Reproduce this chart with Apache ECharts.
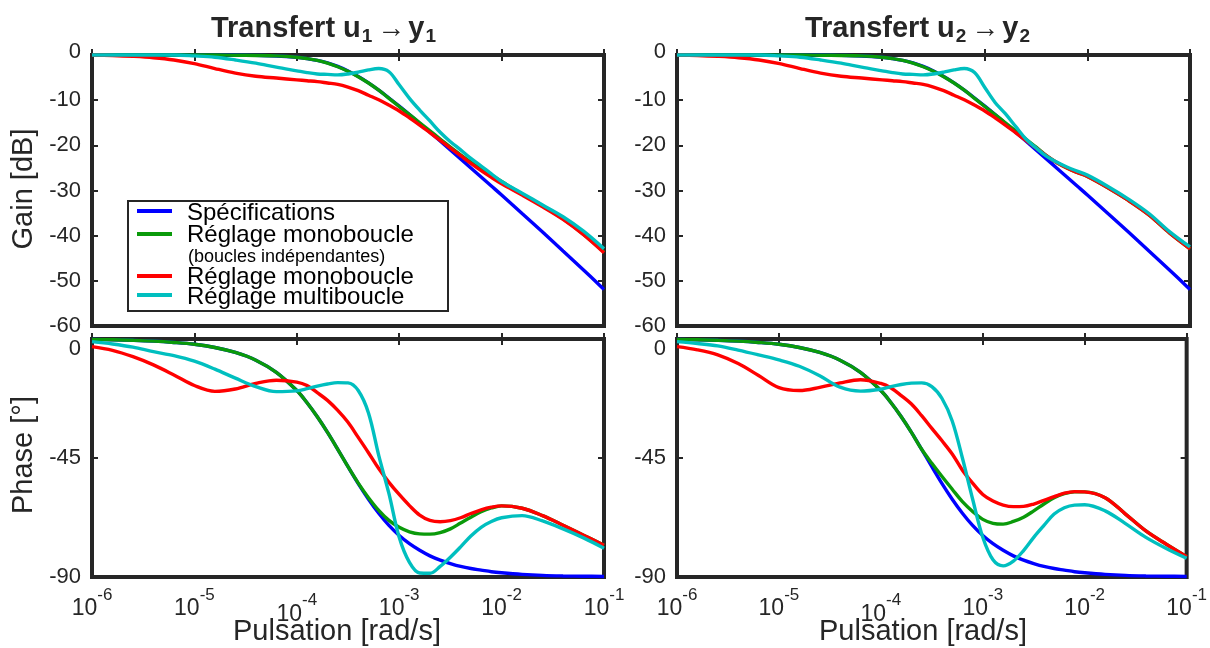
<!DOCTYPE html>
<html>
<head>
<meta charset="utf-8">
<script src="https://cdn.jsdelivr.net/npm/echarts@6/dist/echarts.min.js"></script>
<style>
html, body { margin: 0; padding: 0; background: #ffffff; }
#chart { width: 1210px; height: 648px; }
</style>
</head>
<body>
<div id="chart"></div>
<script>
// ---------------- DATA ----------------
// Pulsation grid (rad/s)
const omega = [1e-6, 1.585e-6, 2.512e-6, 3.981e-6, 6.31e-6, 1e-5, 1.585e-5, 2.512e-5, 3.981e-5, 6.31e-5,
  1e-4, 1.259e-4, 1.585e-4, 1.995e-4, 2.512e-4, 3.162e-4, 3.981e-4, 5.012e-4, 6.31e-4, 7.943e-4,
  1e-3, 1.259e-3, 1.585e-3, 1.995e-3, 2.512e-3, 3.162e-3, 3.981e-3, 5.012e-3, 6.31e-3, 7.943e-3,
  1e-2, 1.585e-2, 2.512e-2, 3.981e-2, 6.31e-2, 1e-1];

const seriesNames = ['Spécifications', 'Réglage monoboucle (boucles indépendantes)', 'Réglage monoboucle', 'Réglage multiboucle'];
const panelTitles = [['1', '1'], ['2', '2']];
const gainTicks = [0, -10, -20, -30, -40, -50, -60];
const phaseTicks = [0, -45, -90];

// Gain [dB], transfert u1 -> y1
const gainSpec = [0, 0, 0, 0, 0, 0, 0, -0.01, -0.09, -0.21, -0.51, -0.79, -1.19, -1.75, -2.53, -3.54, -4.77, -6.19, -7.79, -9.52, -11.33, -13.2, -15.13, -17.08, -19.04, -21.02, -23.0, -25.0, -27.0, -29.0, -31.0, -35.1, -39.2, -43.4, -47.6, -51.9];
const gainMono1 = [0, 0, 0, 0, 0, 0, 0, -0.05, -0.1, -0.2, -0.5, -0.8, -1.2, -1.8, -2.6, -3.6, -4.8, -6.2, -7.8, -9.6, -11.4, -13.2, -15.0, -16.8, -18.6, -20.4, -22.1, -23.7, -25.2, -26.6, -28.0, -30.8, -33.4, -36.3, -39.7, -43.6];
const gainMonoB1 = [0, -0.1, -0.3, -0.6, -1.1, -1.9, -3.0, -4.0, -4.7, -5.1, -5.5, -5.7, -5.9, -6.2, -6.5, -7.1, -7.9, -8.9, -9.9, -11.1, -12.4, -13.9, -15.5, -17.2, -18.9, -20.6, -22.3, -24.0, -25.6, -27.1, -28.5, -31.0, -33.6, -36.4, -39.8, -43.8];
const gainMulti1 = [0, 0, 0, 0, 0, -0.2, -0.5, -1.1, -1.8, -2.7, -3.5, -3.9, -4.2, -4.3, -4.4, -4.2, -3.8, -3.3, -3.0, -3.7, -6.6, -9.6, -12.2, -14.6, -17.1, -19.2, -21.0, -22.9, -24.6, -26.3, -28.0, -30.6, -33.2, -35.8, -39.0, -42.9];

// Gain [dB], transfert u2 -> y2
const gainMono2 = [0, 0, 0, 0, 0, 0, 0, -0.05, -0.1, -0.2, -0.5, -0.8, -1.2, -1.8, -2.6, -3.6, -4.8, -6.2, -7.8, -9.6, -11.4, -13.2, -15.0, -16.8, -18.6, -20.4, -22.3, -23.8, -25.0, -26.0, -26.9, -29.4, -32.2, -35.4, -39.4, -42.9];
const gainMonoB2 = [0, -0.1, -0.3, -0.6, -1.1, -1.9, -3.0, -4.0, -4.7, -5.1, -5.5, -5.7, -5.9, -6.2, -6.5, -7.1, -7.9, -8.9, -9.9, -11.1, -12.4, -13.9, -15.5, -17.2, -18.9, -20.6, -22.3, -23.8, -25.0, -26.0, -26.9, -29.4, -32.2, -35.4, -39.4, -42.9];
const gainMulti2 = [0, 0, 0, 0, 0, -0.2, -0.5, -1.1, -1.8, -2.7, -3.5, -3.9, -4.2, -4.3, -4.4, -4.2, -3.8, -3.3, -3.0, -3.9, -7.2, -10.5, -13.0, -15.8, -18.6, -20.6, -22.4, -23.7, -24.8, -25.7, -26.6, -29.1, -31.9, -35.1, -39.1, -42.5];

// Phase [deg]
const phaseSpec = [-0.2, -0.3, -0.5, -0.8, -1.3, -2.0, -3.2, -5.1, -8.0, -12.6, -19.5, -24.1, -29.4, -35.3, -41.7, -48.3, -54.7, -60.6, -65.9, -70.5, -74.3, -77.4, -79.9, -82.0, -83.6, -84.9, -86.0, -86.8, -87.4, -88.0, -88.4, -89.0, -89.4, -89.6, -89.7, -89.8];
const phaseMono1 = [-0.2, -0.3, -0.5, -0.8, -1.3, -2.0, -3.2, -5.1, -8.0, -12.6, -19.5, -24.1, -29.4, -35.3, -41.7, -48.3, -54.5, -60.0, -64.8, -68.6, -71.2, -72.9, -73.7, -73.8, -73.2, -71.8, -69.6, -67.4, -65.3, -63.9, -63.1, -64.0, -66.8, -70.4, -74.2, -78.0];
const phaseMonoB1 = [-2.9, -4.3, -6.7, -9.8, -13.6, -17.6, -19.8, -18.9, -16.8, -15.6, -16.3, -17.6, -20.3, -23.2, -27.0, -31.5, -37.2, -43.0, -49.0, -54.2, -58.8, -63.0, -66.6, -68.6, -69.1, -68.7, -67.6, -66.0, -64.6, -63.6, -63.1, -64.0, -66.8, -70.4, -74.2, -78.0];
const phaseMulti1 = [-1.0, -1.9, -3.1, -4.8, -6.3, -8.4, -11.4, -14.8, -18.0, -19.9, -19.6, -18.8, -17.8, -17.0, -16.5, -16.6, -19.5, -28.0, -44.0, -58.5, -75.0, -84.5, -88.5, -88.6, -86.0, -82.5, -78.6, -74.5, -71.2, -69.0, -67.6, -66.8, -68.8, -71.8, -75.2, -79.1];
const phaseMono2 = [-0.2, -0.3, -0.5, -0.8, -1.3, -2.0, -3.2, -5.1, -8.0, -12.6, -19.5, -24.1, -29.4, -35.3, -41.7, -47.0, -52.0, -56.8, -61.5, -65.2, -68.2, -69.7, -70.0, -69.0, -67.4, -65.0, -62.4, -60.0, -58.5, -57.8, -57.8, -60.0, -66.2, -72.6, -77.6, -82.3];
const phaseMonoB2 = [-2.9, -4.1, -6.0, -9.3, -13.8, -18.4, -19.5, -18.3, -16.6, -15.4, -16.8, -18.5, -21.4, -24.6, -29.0, -33.8, -38.5, -43.5, -49.6, -54.5, -58.8, -61.3, -62.8, -63.4, -63.3, -62.4, -61.0, -59.6, -58.3, -57.7, -57.8, -60.0, -66.2, -72.6, -77.6, -82.3];
const phaseMulti2 = [-1.0, -1.7, -2.6, -4.2, -6.0, -7.9, -10.3, -13.9, -18.2, -19.7, -19.0, -18.0, -17.2, -16.7, -16.6, -18.0, -22.5, -31.0, -45.0, -60.5, -75.0, -83.5, -85.8, -84.0, -80.0, -75.0, -70.5, -66.2, -63.8, -62.8, -62.7, -65.0, -69.8, -75.0, -79.2, -82.9];

// ---------------- STYLE ----------------
const FONT = "'Liberation Sans', Arial, Helvetica, sans-serif";
const INK = '#262626';
const COLORS = ['#0000ff', '#0a9a0a', '#ff0000', '#00bfbf'];

const panels = [
  { grid: { left: 92, top: 55, width: 512, height: 271 }, kind: 'gain', labels: false,
    data: [gainSpec, gainMono1, gainMonoB1, gainMulti1] },
  { grid: { left: 677, top: 55, width: 513, height: 271 }, kind: 'gain', labels: false,
    data: [gainSpec, gainMono2, gainMonoB2, gainMulti2] },
  { grid: { left: 92, top: 339, width: 512, height: 238 }, kind: 'phase', labels: true,
    data: [phaseSpec, phaseMono1, phaseMonoB1, phaseMulti1] },
  { grid: { left: 677, top: 339, width: 513, height: 238 }, kind: 'phase', labels: true,
    data: [phaseSpec, phaseMono2, phaseMonoB2, phaseMulti2] }
];

const tickStyle = { show: true, inside: true, length: 6, lineStyle: { color: INK, width: 2 } };

const grids = [], xAxes = [], yAxes = [], series = [];
panels.forEach((p, i) => {
  grids.push(Object.assign({ show: true, borderColor: INK, borderWidth: 4, backgroundColor: '#ffffff', containLabel: false }, p.grid));
  const xBase = {
    type: 'log', logBase: 10, gridIndex: i, min: omega[0], max: omega[omega.length - 1], splitNumber: 5,
    axisLine: { show: false }, axisTick: tickStyle, splitLine: { show: false }, minorTick: { show: false }
  };
  xAxes.push(Object.assign({}, xBase, {
    position: 'bottom',
    axisLabel: {
      show: p.labels, margin: 5, showMinLabel: true, showMaxLabel: true, color: INK, fontFamily: FONT,
      formatter: function (v) {
        const e = Math.round(Math.log10(v));
        if (e === -4) return '{b4|10}{e4|' + e + '}';
        return '{b|10}{e|' + e + '}';
      },
      rich: {
        b: { fontSize: 23, color: INK, fontFamily: FONT, padding: [15, 0, 0, 0] },
        e: { fontSize: 17, color: INK, fontFamily: FONT, padding: [0, 0, 12, 0] },
        b4: { fontSize: 23, color: INK, fontFamily: FONT, padding: [21, 0, 0, 0] },
        e4: { fontSize: 17, color: INK, fontFamily: FONT, padding: [4, 0, 12, 0] }
      }
    }
  }));
  xAxes.push(Object.assign({}, xBase, { position: 'top', axisLabel: { show: false } }));

  const isGain = p.kind === 'gain';
  const ticks = isGain ? gainTicks : phaseTicks;
  const yBase = {
    type: 'value', gridIndex: i,
    min: ticks[ticks.length - 1], max: ticks[0], interval: ticks[0] - ticks[1],
    axisLine: { show: false }, axisTick: tickStyle, splitLine: { show: false }
  };
  yAxes.push(Object.assign({}, yBase, {
    position: 'left',
    axisLabel: {
      show: true, margin: 11, color: INK, fontSize: 22, fontFamily: FONT,
      formatter: function (v) {
        if (v === 0) return isGain ? '{z|0}' : '{p|0}';
        return String(v);
      },
      rich: {
        z: { fontSize: 22, color: INK, fontFamily: FONT, padding: [0, 0, 6, 0] },
        p: { fontSize: 22, color: INK, fontFamily: FONT, padding: [20, 0, 0, 0] }
      }
    }
  }));
  yAxes.push(Object.assign({}, yBase, { position: 'right', axisLabel: { show: false } }));

  p.data.forEach((vals, k) => {
    series.push({
      name: seriesNames[k], type: 'line', xAxisIndex: 2 * i, yAxisIndex: 2 * i,
      data: omega.map((w, j) => [w, vals[j]]),
      showSymbol: false, symbol: 'none', smooth: 0.35, clip: false,
      lineStyle: { color: COLORS[k], width: 3.4 }, itemStyle: { color: COLORS[k] },
      z: 3 + k, animation: false
    });
  });
});

// ---------------- TEXT & LEGEND ----------------
function titleText(pair) {
  return '{a|Transfert u}{s|' + pair[0] + '}{r|→}{a|y}{s|' + pair[1] + '}';
}
const titleRich = {
  a: { fontSize: 29, fontWeight: 'bold', fontFamily: FONT, fill: INK },
  s: { fontSize: 19, fontWeight: 'bold', fontFamily: FONT, fill: INK, padding: [15, 3, 0, 1] },
  r: { fontSize: 28, fontWeight: 'normal', fontFamily: FONT, fill: INK, padding: [0, 3, 0, 2] }
};
const bigText = { fontSize: 29, fontFamily: FONT, fill: INK, align: 'center', verticalAlign: 'middle' };
const legText = { fontSize: 24, fontFamily: FONT, fill: '#000000', align: 'left', verticalAlign: 'middle' };

const graphic = [
  { type: 'text', x: 325, y: 29, z: 100, style: { text: titleText(panelTitles[0]), rich: titleRich, align: 'center', verticalAlign: 'middle' } },
  { type: 'text', x: 919, y: 29, z: 100, style: { text: titleText(panelTitles[1]), rich: titleRich, align: 'center', verticalAlign: 'middle' } },
  { type: 'text', x: 24, y: 189, rotation: Math.PI / 2, z: 100, style: Object.assign({ text: 'Gain [dB]' }, bigText) },
  { type: 'text', x: 24, y: 455, rotation: Math.PI / 2, z: 100, style: Object.assign({ text: 'Phase [°]' }, bigText) },
  { type: 'text', x: 337, y: 632, z: 100, style: Object.assign({ text: 'Pulsation [rad/s]' }, bigText) },
  { type: 'text', x: 923, y: 632, z: 100, style: Object.assign({ text: 'Pulsation [rad/s]' }, bigText) },
  // legend box
  { type: 'rect', z: 100, shape: { x: 128, y: 201, width: 320, height: 110 }, style: { fill: '#ffffff', stroke: INK, lineWidth: 2 } },
  { type: 'line', z: 101, shape: { x1: 137, y1: 211, x2: 172, y2: 211 }, style: { stroke: COLORS[0], lineWidth: 4 } },
  { type: 'line', z: 101, shape: { x1: 137, y1: 234, x2: 172, y2: 234 }, style: { stroke: COLORS[1], lineWidth: 4 } },
  { type: 'line', z: 101, shape: { x1: 137, y1: 276, x2: 172, y2: 276 }, style: { stroke: COLORS[2], lineWidth: 4 } },
  { type: 'line', z: 101, shape: { x1: 137, y1: 295, x2: 172, y2: 295 }, style: { stroke: COLORS[3], lineWidth: 4 } },
  { type: 'text', x: 187, y: 213, z: 101, style: Object.assign({ text: 'Spécifications' }, legText) },
  { type: 'text', x: 187, y: 235, z: 101, style: Object.assign({ text: 'Réglage monoboucle' }, legText) },
  { type: 'text', x: 188, y: 257, z: 101, style: Object.assign({}, legText, { text: '(boucles indépendantes)', fontSize: 18 }) },
  { type: 'text', x: 187, y: 277, z: 101, style: Object.assign({ text: 'Réglage monoboucle' }, legText) },
  { type: 'text', x: 187, y: 297, z: 101, style: Object.assign({ text: 'Réglage multiboucle' }, legText) }
];

const chart = echarts.init(document.getElementById('chart'), null, { renderer: 'canvas' });
chart.setOption({
  backgroundColor: '#ffffff',
  animation: false,
  textStyle: { fontFamily: FONT },
  grid: grids,
  xAxis: xAxes,
  yAxis: yAxes,
  series: series,
  graphic: graphic
});
</script>
</body>
</html>
